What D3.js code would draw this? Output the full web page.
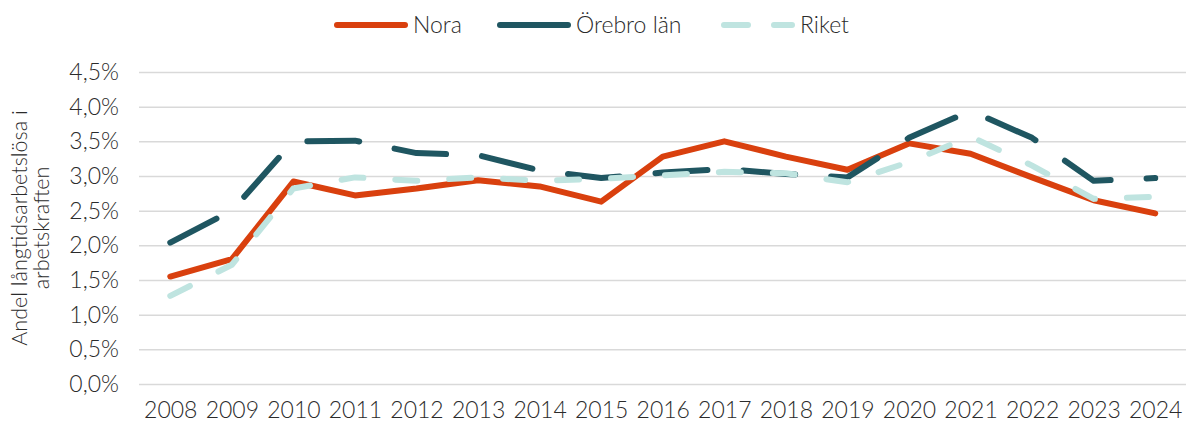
<!DOCTYPE html>
<html><head><meta charset="utf-8">
<script src="https://cdn.jsdelivr.net/npm/d3@7"></script>
<style>
body{margin:0;background:#fff;}
svg text{font-family:Lato,"Open Sans",sans-serif;font-weight:300;fill:#2b2b2b;}
</style></head>
<body><svg id="c" width="1187" height="423"></svg>
<script>
const years = ["2008","2009","2010","2011","2012","2013","2014","2015","2016","2017","2018","2019","2020","2021","2022","2023","2024"];
const nora   = [1.55,1.80,2.92,2.72,2.82,2.94,2.85,2.63,3.28,3.50,3.28,3.09,3.47,3.32,2.98,2.65,2.46];
const orebro = [2.04,2.50,3.50,3.51,3.33,3.30,3.08,2.97,3.05,3.10,3.03,2.98,3.55,3.94,3.55,2.93,2.97];
const riket  = [1.27,1.72,2.82,2.98,2.93,2.98,2.93,2.96,3.01,3.06,3.04,2.91,3.20,3.57,3.15,2.67,2.70];
const yTicks = [0,0.5,1,1.5,2,2.5,3,3.5,4,4.5];
const seriesNames = ["Nora","Örebro län","Riket"];
const yTitle = ["Andel långtidsarbetslösa i","arbetskraften"];

const svg = d3.select("#c");
const x = d3.scalePoint().domain(years).range([139.5,1186]).padding(0.5);
const y = d3.scaleLinear().domain([0,4.5]).range([384,72]);

// gridlines
const yAxis = d3.axisLeft(y).tickValues(yTicks).tickSize(-(1186-139)).tickPadding(20)
  .tickFormat(d => d3.format(".1f")(d).replace(".", ",") + "%");
const gy = svg.append("g").attr("transform","translate(139,0)").call(yAxis);
gy.select(".domain").remove();
gy.selectAll(".tick line").attr("stroke","#d9d9d9").attr("stroke-width",1.5);
gy.selectAll(".tick text").attr("font-size",23).attr("x",-20);

const xAxis = d3.axisBottom(x).tickSize(0).tickPadding(18);
const gx = svg.append("g").attr("transform","translate(0,384)").call(xAxis);
gx.select(".domain").remove();
gx.selectAll(".tick text").attr("font-size",23);

// y title
const yt = svg.append("text").attr("transform","translate(0,228) rotate(-90)")
  .attr("text-anchor","middle").attr("font-size",21.5);
yt.append("tspan").attr("x",0).attr("y",27).text(yTitle[0]);
yt.append("tspan").attr("x",0).attr("y",49).text(yTitle[1]);

const styles = [
  {color:"#d9400e", dash:null},
  {color:"#1f5661", dash:"52,36"},
  {color:"#bfe4e0", dash:"22,32"}
];
const data = [nora, orebro, riket];
const line = d3.line().x((d,i)=>x(years[i])).y(d=>y(d));
data.forEach((s,k)=>{
  svg.append("path").datum(s).attr("d",line).attr("fill","none")
    .attr("stroke",styles[k].color).attr("stroke-width",6)
    .attr("stroke-linecap","round").attr("stroke-linejoin","round")
    .attr("stroke-dasharray",styles[k].dash);
});

// legend
const legX = [337, 500, 724];
seriesNames.forEach((n,k)=>{
  const g = svg.append("g");
  g.append("line").attr("x1",legX[k]).attr("x2",legX[k]+68).attr("y1",25).attr("y2",25)
    .attr("stroke",styles[k].color).attr("stroke-width",6).attr("stroke-linecap","round")
    .attr("stroke-dasharray", k===2 ? "24,26" : null);
  g.append("text").attr("x",legX[k]+76).attr("y",33).attr("font-size",23).text(n);
});
</script></body></html>
